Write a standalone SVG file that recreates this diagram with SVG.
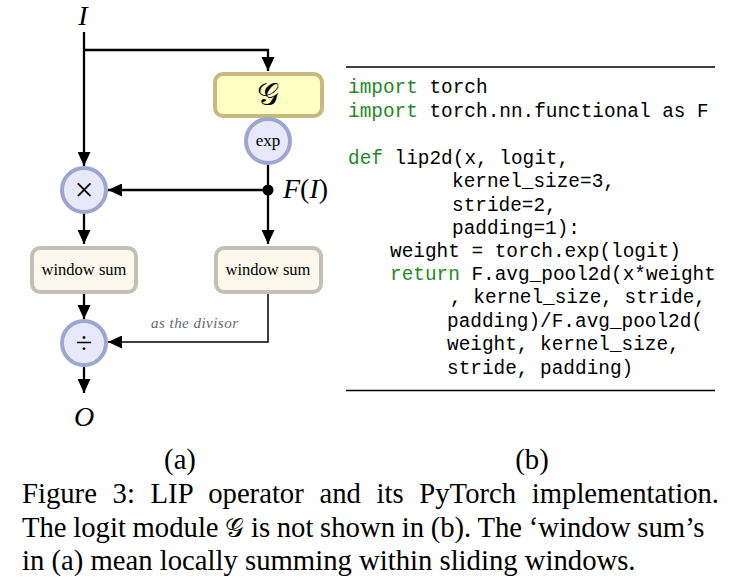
<svg xmlns="http://www.w3.org/2000/svg" width="729" height="584" viewBox="0 0 729 584">
<style>
.op{fill:#e7e8fa;stroke:#9ca6d0;stroke-width:4}
.ws{fill:#fdf8ec;stroke:#c4bfb4;stroke-width:4}
.gb{fill:#ffffc4;stroke:#c8b980;stroke-width:4}
.ln{fill:none;stroke:#000;stroke-width:2.3}
.thin{fill:none;stroke:#000;stroke-width:1.5}
.serif{font-family:"Liberation Serif","Times New Roman",serif;fill:#000}
.it{font-style:italic}
.code{font-family:"Liberation Mono","Courier New",monospace;font-size:19.4px;fill:#000}
.kw{fill:#1f8a1f}
.cap{font-family:"Liberation Serif","Times New Roman",serif;font-size:28.7px;fill:#000}
</style>
<defs>
<marker id="ah" markerUnits="userSpaceOnUse" markerWidth="14" markerHeight="13" viewBox="0 0 14 13" refX="14" refY="6.5" orient="auto">
<path d="M0,0 L14,6.5 L0,13 Z" fill="#000"/>
</marker>
</defs>

<g id="connectors">
<path class="ln" d="M84,32 V166" marker-end="url(#ah)"/>
<path class="ln" d="M84,50 H268 V71" marker-end="url(#ah)"/>
<path class="ln" d="M268,164 V244" marker-end="url(#ah)"/>
<path class="ln" d="M268,190 H108" marker-end="url(#ah)"/>
<circle cx="268" cy="190" r="5.5" fill="#000"/>
<path class="ln" d="M84,213 V244" marker-end="url(#ah)"/>
<path class="ln" d="M84,293 V319" marker-end="url(#ah)"/>
<path class="thin" d="M268,293 V342 H108" marker-end="url(#ah)"/>
<path class="ln" d="M84,366 V393" marker-end="url(#ah)"/>
<text class="serif it" x="151" y="328" font-size="15" style="fill:#666" textLength="87">as the divisor</text>
</g>

<g id="input">
<text class="serif it" x="83" y="25" font-size="28" text-anchor="middle">I</text>
</g>
<g id="logit">
<rect class="gb" x="215" y="74" width="107" height="42" rx="8"/>
<text x="268" y="105" font-size="31" text-anchor="middle" font-family="'DejaVu Serif','DejaVu Sans',serif">𝒢</text>
</g>
<g id="exp">
<circle class="op" cx="268" cy="141" r="22"/>
<text class="serif" x="268" y="146" font-size="17" text-anchor="middle">exp</text>
</g>
<g id="FI">
<text class="serif" x="283" y="198" font-size="28"><tspan class="it">F</tspan>(<tspan class="it">I</tspan>)</text>
</g>
<g id="mul">
<circle class="op" cx="84" cy="190" r="22"/>
<text class="serif" x="84" y="201" font-size="34" text-anchor="middle">×</text>
</g>
<g id="ws-left">
<rect class="ws" x="32" y="248" width="104" height="44" rx="8"/>
<text class="serif" x="84" y="275" font-size="16.5" text-anchor="middle">window sum</text>
</g>
<g id="ws-right">
<rect class="ws" x="216" y="248" width="105" height="44" rx="8"/>
<text class="serif" x="268" y="275" font-size="16.5" text-anchor="middle">window sum</text>
</g>
<g id="div">
<circle class="op" cx="84" cy="343" r="22"/>
<text class="serif" x="84" y="353" font-size="30" text-anchor="middle">÷</text>
</g>
<g id="output">
<text class="serif it" x="84" y="426" font-size="28" text-anchor="middle">O</text>
</g>

<g id="code">
<line x1="346" y1="67" x2="715" y2="67" stroke="#000" stroke-width="1.3"/>
<text class="code" x="348" y="93"><tspan class="kw">import</tspan> torch</text>
<text class="code" x="348" y="117"><tspan class="kw">import</tspan> torch.nn.functional as F</text>
<text class="code" x="348" y="164"><tspan class="kw">def</tspan> lip2d(x, logit,</text>
<text class="code" x="452" y="187">kernel_size=3,</text>
<text class="code" x="452" y="211">stride=2,</text>
<text class="code" x="452" y="234">padding=1):</text>
<text class="code" x="390" y="257">weight = torch.exp(logit)</text>
<text class="code" x="390" y="280"><tspan class="kw">return</tspan> F.avg_pool2d(x*weight</text>
<text class="code" x="450" y="303">, kernel_size, stride,</text>
<text class="code" x="447" y="327">padding)/F.avg_pool2d(</text>
<text class="code" x="447" y="350">weight, kernel_size,</text>
<text class="code" x="447" y="374">stride, padding)</text>
<line x1="346" y1="390.5" x2="715" y2="390.5" stroke="#000" stroke-width="1.3"/>
</g>

<g id="caption">
<text class="cap" x="180" y="469" text-anchor="middle">(a)</text>
<text class="cap" x="532" y="469" text-anchor="middle">(b)</text>
<text class="cap" x="22" y="503" word-spacing="8.5">Figure 3:  LIP operator and its PyTorch implementation.</text>
<text class="cap" x="22" y="537" word-spacing="-0.5">The logit module <tspan font-family="'DejaVu Serif','DejaVu Sans',serif" font-size="26">𝒢</tspan> is not shown in (b). The ‘window sum’s</text>
<text class="cap" x="22" y="570">in (a) mean locally summing within sliding windows.</text>
</g>
</svg>
